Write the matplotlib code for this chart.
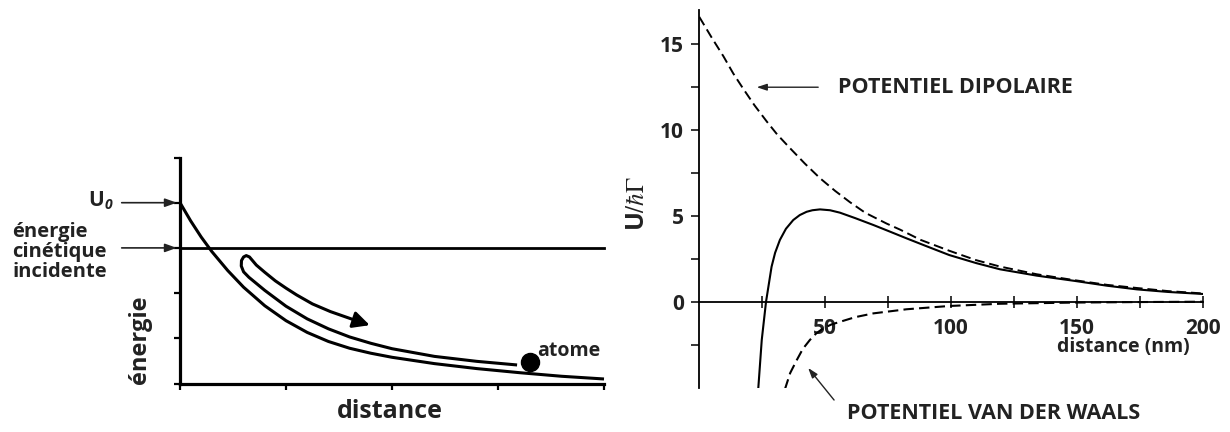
import numpy as np
import matplotlib
matplotlib.use("Agg")
import matplotlib.pyplot as plt

plt.rcParams['font.family'] = ['Open Sans', 'DejaVu Sans']
plt.rcParams['mathtext.fontset'] = 'stix'

# ---- left panel: schematic potential (arbitrary units) ----
pot_x = [0.0, 0.1, 0.2, 0.3, 0.45, 0.6, 0.8, 1.0, 1.2, 1.4, 1.6, 1.8, 2.0, 2.4, 2.8, 3.2, 3.6, 4.0]
pot_y = [4.0, 3.60, 3.24, 2.92, 2.50, 2.13, 1.72, 1.39, 1.13, 0.93, 0.78, 0.67, 0.58, 0.44, 0.33, 0.24, 0.16, 0.10]
u0_level = 4.0
kin_level = 3.0

# atom trajectory (hairpin), from the atom up the slope and back
loop_x = [3.18, 2.80, 2.40, 2.00, 1.80, 1.60, 1.40, 1.20, 1.00, 0.80, 0.65, 0.60,
          0.578, 0.58, 0.60, 0.625, 0.655, 0.72, 0.80, 0.90, 1.00, 1.10, 1.25, 1.42, 1.70]
loop_y = [0.41, 0.49, 0.60, 0.77, 0.89, 1.03, 1.21, 1.43, 1.71, 2.06, 2.35, 2.47,
          2.60, 2.72, 2.80, 2.83, 2.80, 2.62, 2.46, 2.27, 2.11, 1.96, 1.76, 1.59, 1.36]
loop_tip = (1.79, 1.29)
atom_xy = (3.30, 0.47)

# ---- right panel: U / hbar Gamma vs distance (nm) ----
dip_x = [0.1, 5.0, 9.7, 13.6, 17.6, 22.0, 26.9, 31.0, 36.1, 42.0, 48.0, 54.0, 59.9, 66.0,
         74.5, 79.8, 88.0, 99.3, 110.0, 119.4, 134.0, 149.2, 162.0, 173.7, 186.0, 200.0]
dip_y = [16.6, 15.4, 14.3, 13.3, 12.4, 11.45, 10.5, 9.75, 8.95, 8.05, 7.2, 6.46, 5.8, 5.18,
         4.55, 4.2, 3.6, 2.97, 2.42, 2.05, 1.6, 1.25, 0.98, 0.8, 0.62, 0.48]

tot_x = [23.5, 24.9, 26.6, 28.8, 30.2, 32.1, 34.5, 37.4, 40.0, 42.7, 45.0, 48.0, 52.0, 55.9,
         62.0, 69.2, 75.0, 82.4, 90.0, 99.3, 110.0, 119.4, 134.0, 149.2, 162.0, 173.7, 186.0, 200.0]
tot_y = [-5.1, -2.23, 0.0, 2.04, 2.85, 3.6, 4.25, 4.76, 5.05, 5.24, 5.33, 5.38, 5.33, 5.19,
         4.87, 4.47, 4.13, 3.69, 3.25, 2.72, 2.25, 1.89, 1.52, 1.21, 0.93, 0.72, 0.57, 0.45]

vdw_x = [34.1, 36.2, 38.8, 41.2, 44.0, 46.5, 49.3, 52.5, 56.0, 62.0, 69.2, 82.4, 99.3, 119.4, 149.2, 175.0, 200.0]
vdw_y = [-5.1, -4.15, -3.4, -2.75, -2.23, -1.85, -1.55, -1.33, -1.17, -0.9, -0.68, -0.44, -0.25, -0.12, -0.05, -0.02, 0.0]

xt_major = [50, 100, 150, 200]
xt_minor = [25, 75, 125, 175]
yt_major = [0, 5, 10, 15]
yt_minor = [-2.5, 2.5, 7.5, 12.5]

W, H = 1230, 432
TXT = '#222222'
fig = plt.figure(figsize=(W / 100, H / 100), dpi=100)

# ---------------- left ----------------
axL = fig.add_axes([180 / W, 48.5 / H, 424 / W, 226 / H])
axL.set_xlim(0, 4)
axL.set_ylim(0, 5)
for s in ['top', 'right']:
    axL.spines[s].set_visible(False)
for s in ['left', 'bottom']:
    axL.spines[s].set_linewidth(2.3)
axL.set_xticks([0, 1, 2, 3, 4])
axL.set_yticks([0, 1, 2, 3, 4, 5])
axL.tick_params(direction='out', length=4, width=1.6, labelbottom=False, labelleft=False)

axL.plot(pot_x, pot_y, color='black', lw=2.2, clip_on=False, solid_capstyle='butt')
axL.plot([0, 4], [kin_level, kin_level], color='black', lw=2.0, clip_on=False)
axL.plot(loop_x, loop_y, color='black', lw=2.2, solid_joinstyle='round', solid_capstyle='butt')
axL.annotate('', xy=loop_tip, xytext=(loop_x[-1], loop_y[-1]),
             arrowprops=dict(arrowstyle='-|>,head_length=1.0,head_width=0.5',
                             color='black', lw=2.2, shrinkA=0, shrinkB=0))
axL.plot([atom_xy[0]], [atom_xy[1]], 'o', color='black', ms=13)
axL.text(atom_xy[0] + 0.07, atom_xy[1] + 0.25, 'atome', fontsize=14, fontweight='bold',
         ha='left', va='center', color=TXT)

# labels and arrows pointing to U0 / kinetic energy
for lvl in [u0_level, kin_level]:
    axL.annotate('', xy=(-0.03, lvl), xytext=(-0.55, lvl), annotation_clip=False,
                 arrowprops=dict(arrowstyle='-|>,head_length=0.7,head_width=0.25',
                                 color=TXT, lw=1.2, shrinkA=0, shrinkB=0))
fig.text(104 / W, 1 - 201 / H, 'U', fontsize=15, fontweight='bold', ha='right', va='center',
         color=TXT)
fig.text(105 / W, 1 - 205 / H, '0', fontsize=10, style='italic', fontweight='bold',
         ha='left', va='center', color=TXT)
fig.text(12 / W, 1 - 252 / H, 'énergie\ncinétique\nincidente', fontsize=14.5,
         fontweight='bold', ha='left', va='center', linespacing=1.02, color=TXT)
fig.text(140 / W, 1 - 340 / H, 'énergie', fontsize=17, fontweight='bold',
         rotation=90, ha='center', va='center', color=TXT)
fig.text(390 / W, 1 - 412 / H, 'distance', fontsize=18, fontweight='bold',
         ha='center', va='center', color=TXT)

# ---------------- right ----------------
axR = fig.add_axes([699 / W, 44.5 / H, 504 / W, 377.5 / H])
axR.set_xlim(0, 200)
axR.set_ylim(-5, 17)
for s in ['top', 'right']:
    axR.spines[s].set_visible(False)
axR.spines['bottom'].set_position(('data', 0))
axR.spines['bottom'].set_linewidth(1.3)
axR.spines['left'].set_linewidth(1.3)

axR.set_xticks(xt_major)
axR.set_xticks(xt_minor, minor=True)
axR.set_yticks(yt_major)
axR.set_yticks(yt_minor, minor=True)
axR.tick_params(axis='x', which='both', direction='inout', length=9, width=1.1,
                labelsize=15, pad=7)
axR.tick_params(axis='y', which='both', direction='out', length=6, width=1.1,
                labelsize=15, pad=5)
for lab in axR.get_xticklabels() + axR.get_yticklabels():
    lab.set_fontweight('bold')
    lab.set_color(TXT)

dash = (0, (5, 2.5))
axR.plot(dip_x, dip_y, color='black', lw=1.4, linestyle=dash)
axR.plot(tot_x, tot_y, color='black', lw=1.5)
axR.plot(vdw_x, vdw_y, color='black', lw=1.5, linestyle=dash)

axR.text(194.5, -2.64, 'distance (nm)', fontsize=14, fontweight='bold',
         ha='right', va='center', color=TXT)
axR.annotate('', xy=(22.9, 12.5), xytext=(47.3, 12.5), annotation_clip=False,
             arrowprops=dict(arrowstyle='-|>,head_length=0.6,head_width=0.2',
                             color=TXT, lw=1.0, shrinkA=0, shrinkB=0))
axR.text(55.2, 12.5, 'POTENTIEL DIPOLAIRE', fontsize=15.5, fontweight='bold',
         ha='left', va='center', color=TXT)
axR.annotate('', xy=(43.3, -3.86), xytext=(53.6, -5.73), annotation_clip=False,
             arrowprops=dict(arrowstyle='-|>,head_length=0.6,head_width=0.2',
                             color=TXT, lw=1.0, shrinkA=0, shrinkB=0))
axR.text(58.7, -6.49, 'POTENTIEL VAN DER WAALS', fontsize=15.5, fontweight='bold',
         ha='left', va='center', color=TXT, clip_on=False)

fig.text(638 / W, 1 - 204 / H, r'U$/\hbar\Gamma$', fontsize=18, fontweight='bold',
         rotation=90, ha='center', va='center', color=TXT)

fig.savefig('out.png', dpi=100)
